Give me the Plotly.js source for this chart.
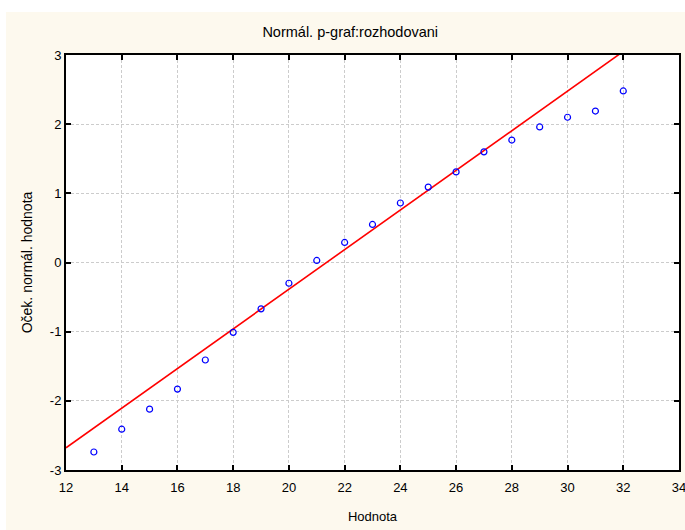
<!DOCTYPE html>
<html><head><meta charset="utf-8">
<script src="https://cdn.plot.ly/plotly-3.0.1.min.js"></script>
<style>html,body{margin:0;padding:0;background:#fff;overflow:hidden}
#chart{position:absolute;left:6px;top:12px;width:679px;height:518px}</style>
</head><body><div id="chart"></div>
<script>
const xValues = [13,14,15,16,17,18,19,20,21,22,23,24,25,26,27,28,29,30,31,32];
const yExpected = [-2.74,-2.41,-2.12,-1.83,-1.41,-1.01,-0.67,-0.30,0.03,0.29,0.55,0.86,1.09,1.31,1.60,1.77,1.96,2.10,2.19,2.48];
const fitMean = 21.35;
const fitSd = 3.49;
const xTicks = [12,14,16,18,20,22,24,26,28,30,32,34];
const yTicks = [-3,-2,-1,0,1,2,3];
const yTickText = ['-3','-2','-1','0','1','2','3'];

const lineX = [12, 34];
const lineY = lineX.map(v => (v - fitMean) / fitSd);

const fam = '"Liberation Sans", Arial, sans-serif';
const tickFont = {family: fam, size: 13, color: '#000'};
const data = [
  {x: lineX, y: lineY, mode: 'lines', line: {color: '#ff0000', width: 1.6}, hoverinfo: 'skip'},
  {x: xValues, y: yExpected, mode: 'markers', cliponaxis: false,
   marker: {symbol: 'circle-open', size: 6, color: '#0000ff', line: {width: 1.2, color: '#0000ff'}}}
];
const axisCommon = {
  showline: true, linecolor: '#000', linewidth: 2, mirror: 'ticks',
  ticks: 'inside', ticklen: 5, tickwidth: 2, tickcolor: '#000',
  showgrid: true, gridcolor: '#cccccc', griddash: '3px,2px', gridwidth: 1,
  zeroline: false, tickfont: tickFont, ticklabeloverflow: 'allow'
};
const layout = {
  width: 679, height: 518,
  paper_bgcolor: '#fdf9ee', plot_bgcolor: '#ffffff',
  margin: {l: 60, r: 6, t: 43, b: 60},
  showlegend: false,
  font: tickFont,
  title: {text: 'Normál. p-graf:rozhodovani', font: {family: fam, size: 14.5, color: '#000'}, x: 0.507, xanchor: 'center', y: 0.962, yanchor: 'middle'},
  xaxis: Object.assign({}, axisCommon, {range: [12, 34], tickvals: xTicks, ticktext: xTicks.map(String),
    ticklabelstandoff: 4,
    title: {text: 'Hodnota', font: {family: fam, size: 13, color: '#000'}, standoff: 18}}),
  yaxis: Object.assign({}, axisCommon, {range: [-3, 3], tickvals: yTicks, ticktext: yTickText,
    title: {text: 'Oček. normál. hodnota', font: {family: fam, size: 14, color: '#000'}, standoff: 14}})
};
Plotly.newPlot('chart', data, layout, {displayModeBar: false, staticPlot: true});
</script></body></html>
